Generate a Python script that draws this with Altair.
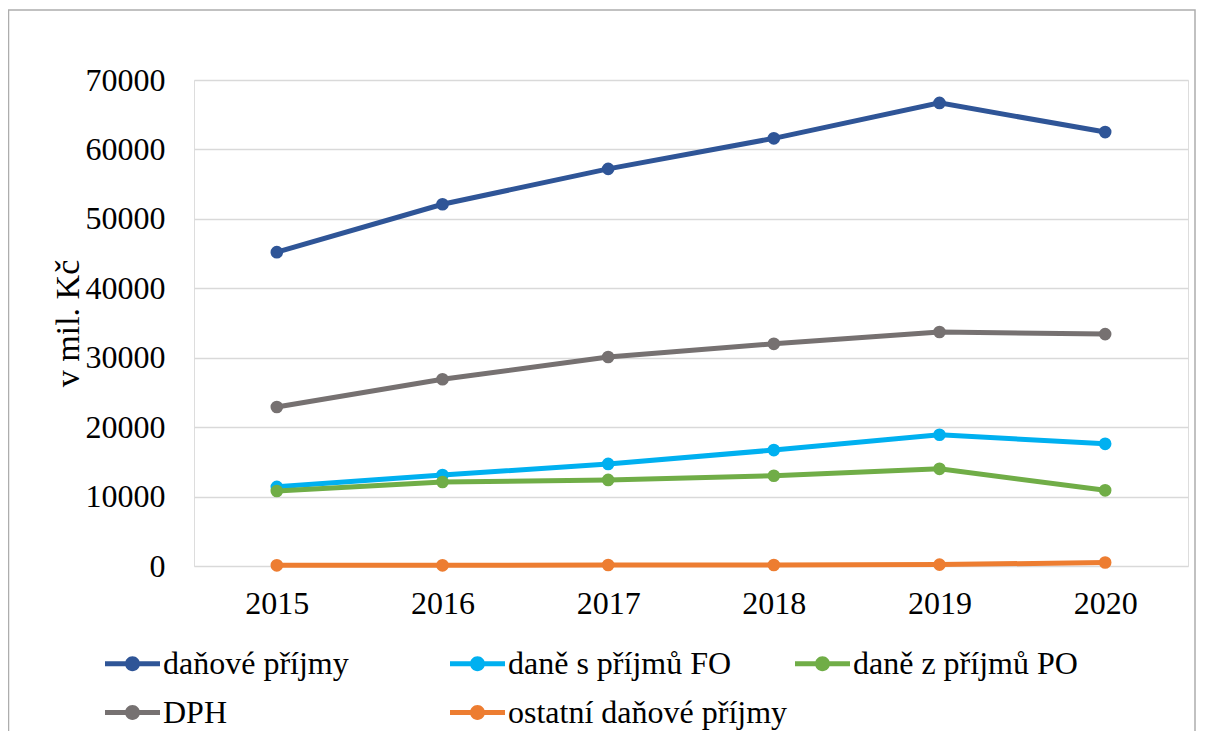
import altair as alt
import pandas as pd

years = ["2015", "2016", "2017", "2018", "2019", "2020"]
series_names = ["daňové příjmy", "daně s příjmů FO", "daně z příjmů PO", "DPH", "ostatní daňové příjmy"]
danove = [45200, 52100, 57200, 61600, 66700, 62500]
fo = [11400, 13100, 14700, 16700, 18900, 17600]
po = [10800, 12100, 12400, 13000, 14000, 10900]
dph = [22900, 26900, 30100, 32000, 33700, 33400]
ostatni = [100, 100, 150, 150, 200, 500]
colors = ["#2F5597", "#00B0F0", "#70AD47", "#767171", "#ED7D31"]
y_ticks = [0, 10000, 20000, 30000, 40000, 50000, 60000, 70000]

rows = []
for name, vals in zip(series_names, [danove, fo, po, dph, ostatni]):
    for i, (yr, v) in enumerate(zip(years, vals)):
        rows.append({"rok": yr, "serie": name, "hodnota": v, "poradi": i})
df = pd.DataFrame(rows)

FONT = "Liberation Serif"
FS = 32
W, H = 994, 486

sym_path = ("M-1,-0.09L1,-0.09L1,0.09L-1,0.09Z"
            "M-0.27,0A0.27,0.27,0,1,1,0.27,0A0.27,0.27,0,1,1,-0.27,0Z")

color_scale = alt.Scale(domain=series_names, range=colors)

legend = alt.Legend(
    title=None, orient="none", legendX=-89, legendY=556, direction="horizontal",
    columns=3, gridAlign="all", columnPadding=7, rowPadding=5,
    symbolType=sym_path, symbolSize=3025, symbolStrokeWidth=0,
    symbolOpacity=1,
    labelFont=FONT, labelFontSize=FS, labelColor="#000000",
    labelOffset=3, labelLimit=500)

x_enc = alt.X("rok:O", scale=alt.Scale(type="point", padding=0.5),
              axis=alt.Axis(title=None, labelAngle=0, ticks=False, domain=False,
                            labelFont=FONT, labelFontSize=FS, labelColor="#000000",
                            labelPadding=22))
y_enc = alt.Y("hodnota:Q", scale=alt.Scale(domain=[0, 70000], nice=False),
              axis=alt.Axis(values=y_ticks, format="d", title="v mil. Kč",
                            ticks=False, domain=False, labelFont=FONT,
                            labelFontSize=FS, labelColor="#000000", labelPadding=29,
                            gridColor="#D9D9D9", gridWidth=1.5,
                            titleFont=FONT, titleFontSize=34, titleFontWeight="normal",
                            titleColor="#000000", titleX=-126, titleY=H / 2,
                            titleAngle=-90, titleAlign="center", titleBaseline="middle"))

lines = alt.Chart(df).mark_line(strokeWidth=5).encode(
    x=x_enc, y=y_enc,
    color=alt.Color("serie:N", scale=color_scale, sort=series_names, legend=legend),
    order="poradi:Q",
)

points = alt.Chart(df).mark_point(filled=True, size=160, opacity=1).encode(
    x=x_enc, y=y_enc,
    color=alt.Color("serie:N", scale=color_scale, sort=series_names, legend=legend),
)

border = alt.Chart(alt.Data(values=[{"a": 1}])).mark_rect(
    fill=None, stroke="#ADADAD", strokeWidth=1.5
).encode(x=alt.value(-185.5), x2=alt.value(1001), y=alt.value(-70), y2=alt.value(720))

chart = alt.layer(border, lines, points).properties(
    width=W, height=H,
    autosize=alt.AutoSizeParams(type="none"),
    padding={"left": 186, "top": 72, "right": 9, "bottom": 165},
).configure_view(stroke=None).configure(background="#FFFFFF")

chart.save("out.html", embed_options={"renderer": "svg", "actions": False})
